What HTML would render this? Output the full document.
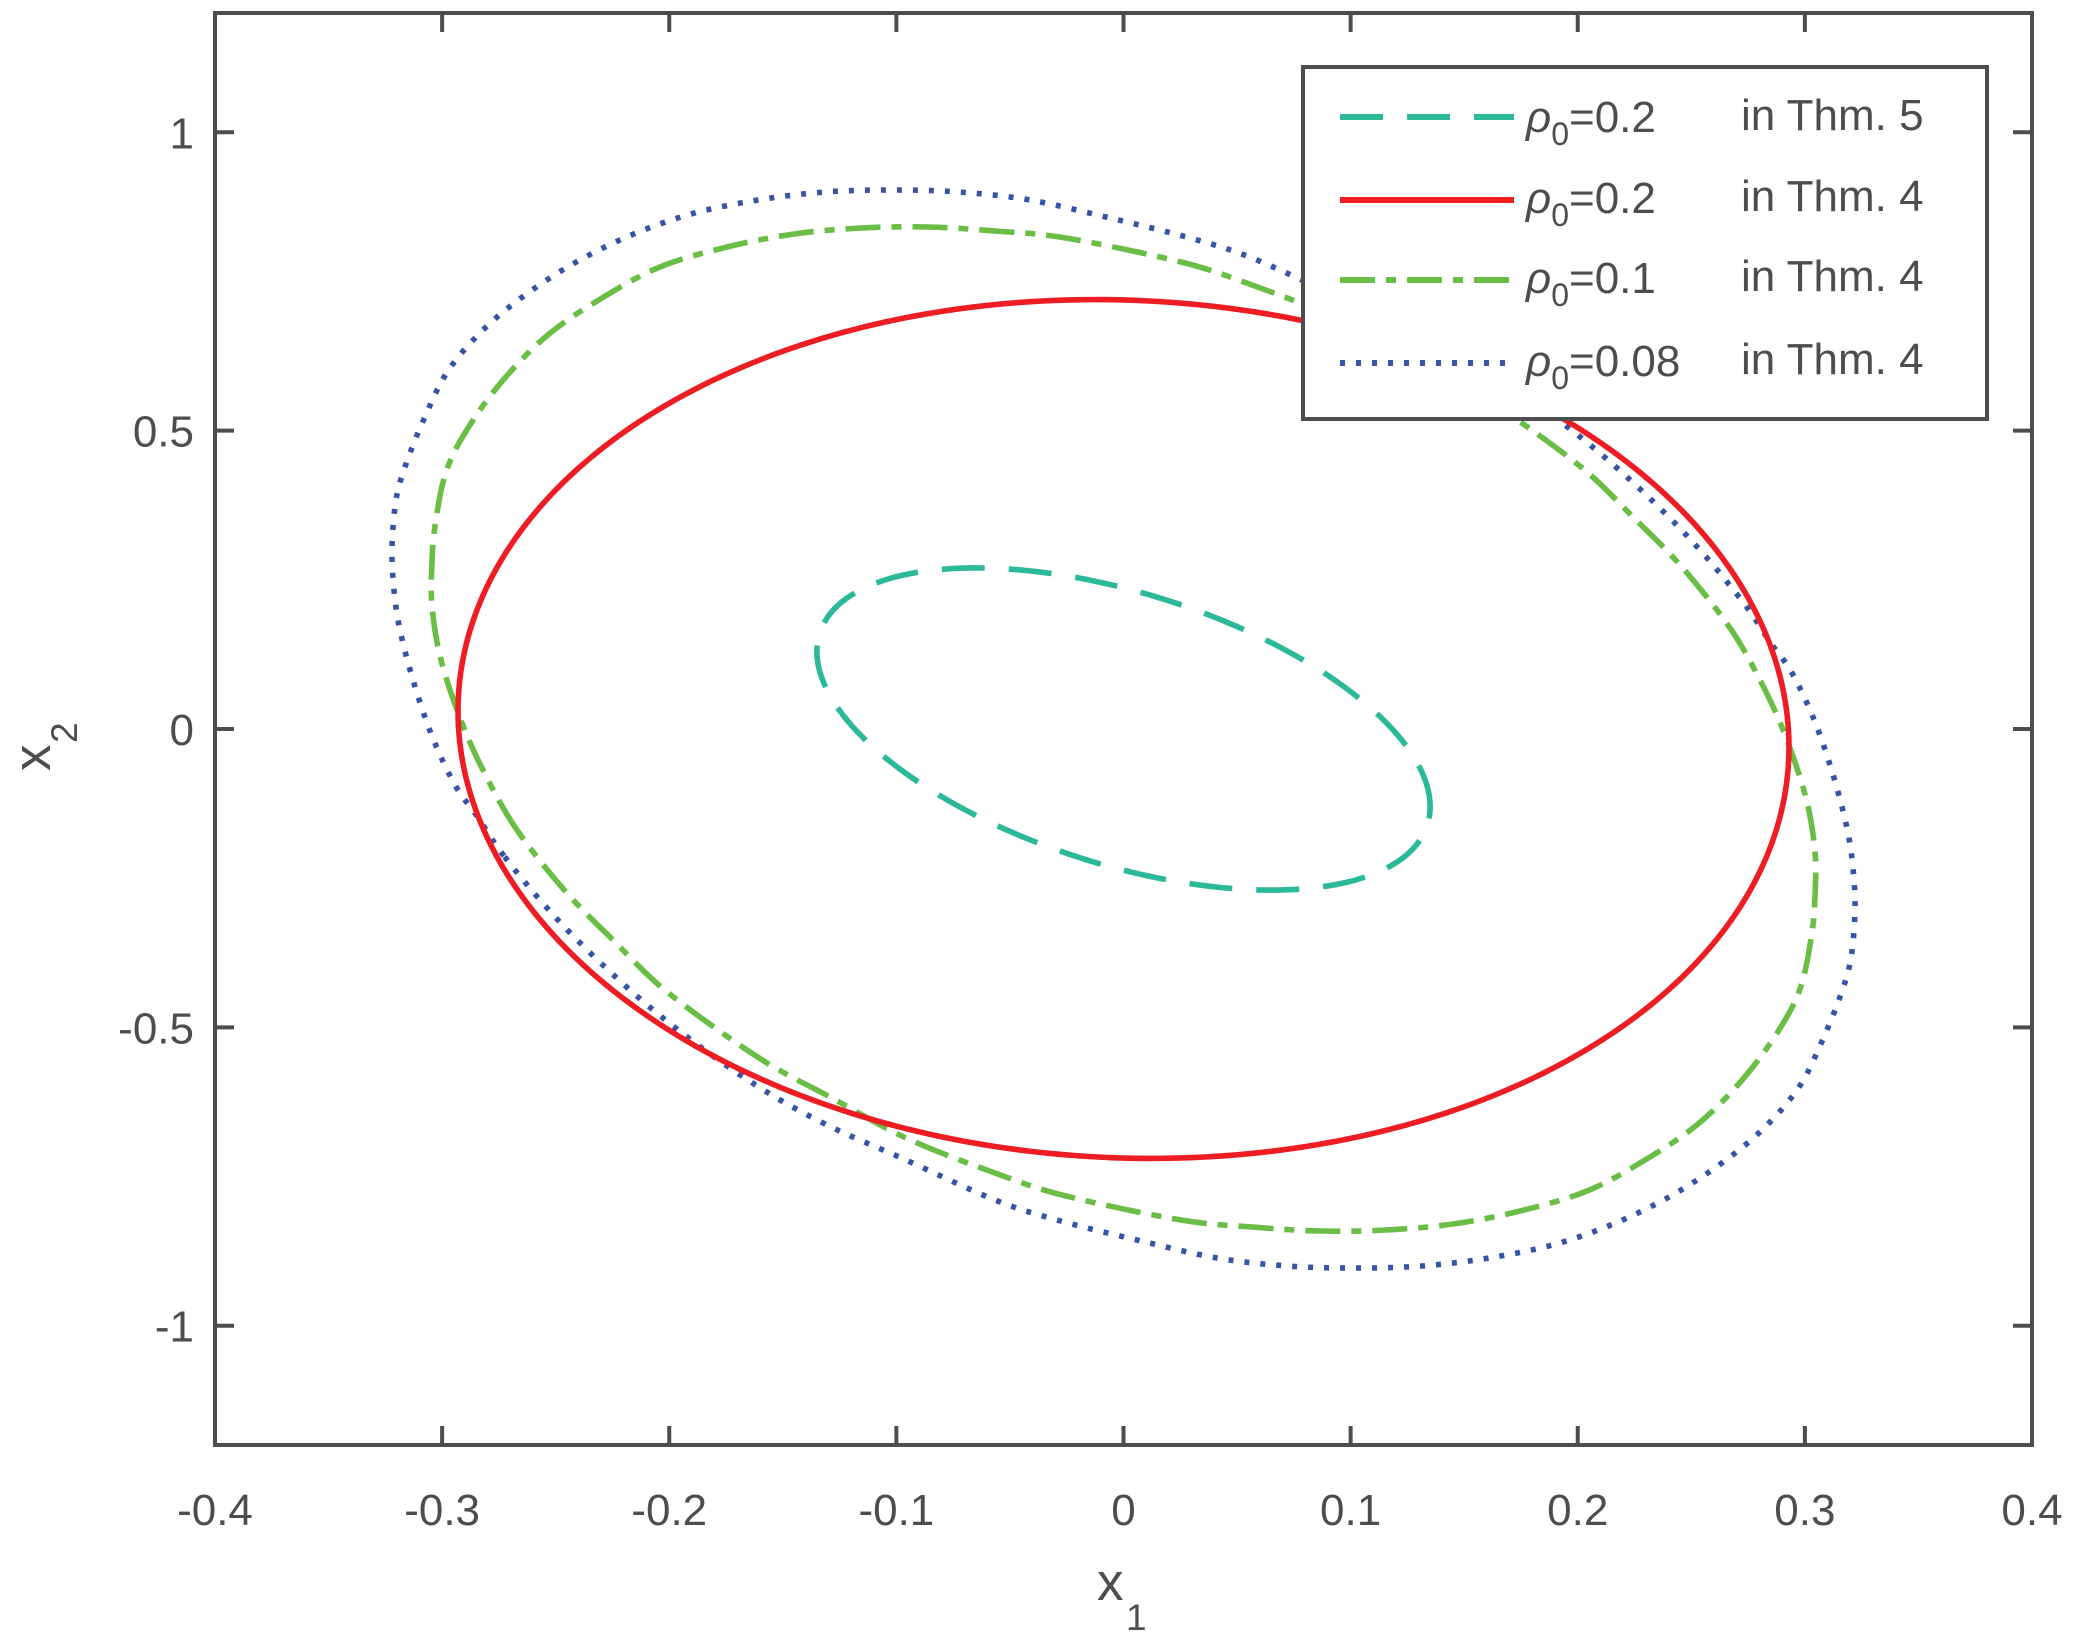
<!DOCTYPE html>
<html><head><meta charset="utf-8"><style>
html,body{margin:0;padding:0;background:#fff;}
svg{display:block;}
text{font-family:"Liberation Sans",sans-serif;fill:#4d4d4d;}
</style></head><body>
<svg id="s" width="2083" height="1642" viewBox="0 0 2083 1642" xmlns="http://www.w3.org/2000/svg">
<rect x="0" y="0" width="2083" height="1642" fill="#fff"/>
<g id="curves" fill="none" stroke-width="5.6"></g>
<g stroke="#4d4d4d" stroke-width="4" fill="none">
<rect x="215" y="13" width="1817" height="1432"/>
<g id="ticks"></g>
</g>
<g font-size="44" text-anchor="middle" id="xl"></g>
<g font-size="44" text-anchor="end" id="yl"></g>
<text x="1097" y="1600" font-size="53">x</text><text x="1126" y="1630" font-size="37">1</text>
<g transform="translate(50,747) rotate(-90)"><text x="-24" y="0" font-size="53">x</text><text x="4" y="27" font-size="37">2</text></g>
<g>
<rect x="1303" y="67" width="684" height="352" fill="#fff" stroke="#4d4d4d" stroke-width="4"/>
<line x1="1340" y1="117" x2="1514" y2="117" stroke="#2bb99a" stroke-width="6" stroke-dasharray="43 24"/>
<line x1="1340" y1="200" x2="1514" y2="200" stroke="#ee1d24" stroke-width="6"/>
<line x1="1340" y1="280" x2="1514" y2="280" stroke="#6abd45" stroke-width="6" stroke-dasharray="35 11 10 11"/>
<line x1="1340" y1="363" x2="1514" y2="363" stroke="#3953a4" stroke-width="6" stroke-dasharray="5 11"/>
<g font-size="44">
<text x="1526" y="132"><tspan font-style="italic">ρ</tspan><tspan font-size="32" dy="13">0</tspan><tspan dy="-13">=0.2</tspan></text><text x="1741" y="130">in Thm. 5</text>
<text x="1526" y="213"><tspan font-style="italic">ρ</tspan><tspan font-size="32" dy="13">0</tspan><tspan dy="-13">=0.2</tspan></text><text x="1741" y="211">in Thm. 4</text>
<text x="1526" y="293"><tspan font-style="italic">ρ</tspan><tspan font-size="32" dy="13">0</tspan><tspan dy="-13">=0.1</tspan></text><text x="1741" y="291">in Thm. 4</text>
<text x="1526" y="376"><tspan font-style="italic">ρ</tspan><tspan font-size="32" dy="13">0</tspan><tspan dy="-13">=0.08</tspan></text><text x="1741" y="374">in Thm. 4</text>
</g>
</g>
</svg>
<script>
var NS="http://www.w3.org/2000/svg";
function X(v){return 1123.5+v*2271.25;}
function Y(v){return 729-v*596.7;}
function el(p,t,a,txt){var e=document.createElementNS(NS,t);for(var k in a)e.setAttribute(k,a[k]);if(txt!=null)e.textContent=txt;p.appendChild(e);return e;}
var tk=document.getElementById('ticks'),xl=document.getElementById('xl'),yl=document.getElementById('yl');
[-0.4,-0.3,-0.2,-0.1,0,0.1,0.2,0.3,0.4].forEach(function(v){var x=X(v);
el(tk,'line',{x1:x,y1:1445,x2:x,y2:1426});el(tk,'line',{x1:x,y1:13,x2:x,y2:32});
el(xl,'text',{x:x,y:1525},v==0?'0':String(v));});
[-1,-0.5,0,0.5,1].forEach(function(v){var y=Y(v);
el(tk,'line',{x1:215,y1:y,x2:234,y2:y});el(tk,'line',{x1:2032,y1:y,x2:2013,y2:y});
el(yl,'text',{x:194,y:y+16},String(v));});
var cg=document.getElementById('curves');
function ell(a,c,d,col,dash){var p='';for(var i=0;i<=360;i++){var t=i*Math.PI/180;var x=X(a*Math.cos(t)),y=Y(c*Math.cos(t)+d*Math.sin(t));p+=(i?'L':'M')+x.toFixed(2)+' '+y.toFixed(2);}
var e=el(cg,'path',{d:p,stroke:col});if(dash)e.setAttribute('stroke-dasharray',dash);}
function cr(half,col,dash){var pts=half.slice();half.forEach(function(q){pts.push([2247-q[0],1458-q[1]]);});
var N=pts.length,p='M'+pts[0][0]+' '+pts[0][1];
for(var i=0;i<N;i++){var p0=pts[(i-1+N)%N],p1=pts[i],p2=pts[(i+1)%N],p3=pts[(i+2)%N];
var c1=[p1[0]+(p2[0]-p0[0])/6,p1[1]+(p2[1]-p0[1])/6],c2=[p2[0]-(p3[0]-p1[0])/6,p2[1]-(p3[1]-p1[1])/6];
p+='C'+c1[0].toFixed(1)+' '+c1[1].toFixed(1)+' '+c2[0].toFixed(1)+' '+c2[1].toFixed(1)+' '+p2[0]+' '+p2[1];}
var e=el(cg,'path',{d:p+'Z',stroke:col});if(dash)e.setAttribute('stroke-dasharray',dash);}
cr([[504,856],[477,816],[455,785],[432,736],[413,680],[400,630],[394,590],[392,548],[396,500],[406,464],[424,419],[446,374],[477,336],[517,301],[571,265],[629,236],[691,214],[758,200],[825,192],[892,190],[959,192],[1030,200],[1110,218],[1190,238],[1252,258],[1341,298],[1422,334],[1493,374],[1565,425],[1627,477],[1690,539]],'#3953a4','5 11');
cr([[517,830],[486,776],[462,723],[441,660],[432,606],[432,562],[435,526],[446,472],[468,428],[504,379],[549,334],[602,298],[660,267],[727,247],[794,234],[861,228],[928,227],[995,231],[1066,238],[1181,262],[1252,285],[1341,320],[1417,361],[1475,392],[1529,428],[1587,472],[1631,515],[1681,566]],'#6abd45','35 11 10 11');
ell(0.293,-0.03,0.719,'#ee1d24',null);
ell(0.135,-0.13,0.2366,'#2bb99a','43 24');
</script>
</body></html>
